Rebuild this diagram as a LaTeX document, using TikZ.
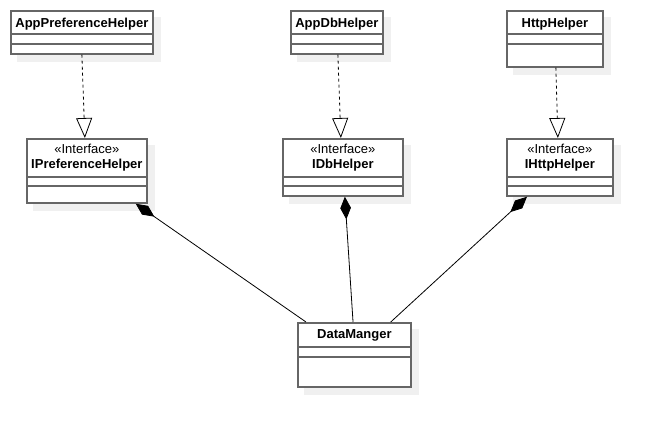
\documentclass[tikz,border=0pt]{standalone}
\usepackage{fontspec}
\setmainfont{Liberation Sans}
\usetikzlibrary{arrows.meta}
\usetikzlibrary{backgrounds}
\tikzset{>=latex}
\tikzset{
  cls/.style={draw=black!60, line width=1.3pt, fill=white, inner sep=0pt, anchor=north west},
  cline/.style={draw=black!60, line width=1.3pt},
  cname/.style={font=\bfseries\fontsize{9.75pt}{11pt}\selectfont, anchor=base, inner sep=0pt},
  stereo/.style={font=\fontsize{9.75pt}{11pt}\selectfont, anchor=base, inner sep=0pt},
  boxshadow/.style={fill=black!6},
  realize/.style={dash pattern=on 2.25pt off 2.25pt, line width=0.6pt,
                  -{Triangle[open, length=15pt, width=12pt, fill=white]}},
  compose/.style={line width=0.6pt, {Diamond[length=17pt, width=8pt]}-}
}

\begin{document}
\begin{tikzpicture}[x=0.75pt, y=-0.75pt]
  \useasboundingbox (0,0) rectangle (652,426);

  % classes
  \node[cls, minimum width=106.5pt, minimum height=32.25pt] (appPref) at (10,10) {};
  \node[cls, minimum width=69pt,    minimum height=32.25pt] (appDb)   at (290,10) {};
  \node[cls, minimum width=72pt,    minimum height=42pt]    (http)    at (506,10) {};
  \node[cls, minimum width=90pt,    minimum height=48pt]    (iPref)   at (26,138) {};
  \node[cls, minimum width=90pt,    minimum height=42.75pt] (iDb)     at (282,138) {};
  \node[cls, minimum width=79.5pt,  minimum height=42.75pt] (iHttp)   at (506,138) {};
  \node[cls, minimum width=84.75pt, minimum height=48pt]    (dataMgr) at (297,322) {};

  % shadows
  \begin{scope}[on background layer]
    \foreach \n in {appPref, appDb, http, iPref, iDb, iHttp, dataMgr}
      \fill[boxshadow] ([shift={(5.25pt,-5.25pt)}]\n.north west) rectangle ([shift={(5.25pt,-5.25pt)}]\n.south east);
  \end{scope}

  % compartments
  \foreach \n/\a/\b in {appPref/18/25.5, appDb/18/25.5, http/18/25.5,
                        iPref/29.25/36, iDb/29.25/36, iHttp/29.25/36, dataMgr/18.75/26.25}
    \draw[cline] ([yshift=-\a pt]\n.north west) -- ([yshift=-\a pt]\n.north east)
                 ([yshift=-\b pt]\n.north west) -- ([yshift=-\b pt]\n.north east);

  % names
  \node[cname] (appPrefName) at ([yshift=-12.75pt]appPref.north) {AppPreferenceHelper};
  \node[cname] (appDbName)   at ([yshift=-12.75pt]appDb.north)   {AppDbHelper};
  \node[cname] (httpName)    at ([yshift=-12.75pt]http.north)    {HttpHelper};
  \node[stereo] (iPrefSt)    at ([yshift=-11.25pt]iPref.north)   {«Interface»};
  \node[cname] (iPrefName)   at ([yshift=-22.5pt]iPref.north)    {IPreferenceHelper};
  \node[stereo] (iDbSt)      at ([yshift=-11.25pt]iDb.north)     {«Interface»};
  \node[cname] (iDbName)     at ([yshift=-22.5pt]iDb.north)      {IDbHelper};
  \node[stereo] (iHttpSt)    at ([yshift=-11.25pt]iHttp.north)   {«Interface»};
  \node[cname] (iHttpName)   at ([yshift=-22.5pt]iHttp.north)    {IHttpHelper};
  \node[cname] (dataMgrName) at ([yshift=-12pt]dataMgr.north)    {DataManger};

  % realization
  \draw[realize] (appPref.south) -- ([xshift=-1.5pt]iPref.north);
  \draw[realize] ([xshift=0.75pt]appDb.south) -- ([xshift=-1.5pt]iDb.north);
  \draw[realize] ([xshift=0.75pt]http.south) -- ([xshift=-1.5pt]iHttp.north);

  % composition
  \draw[compose] ([xshift=-9pt]iPref.south east) -- ([xshift=6.75pt]dataMgr.north west);
  \draw[compose] ([xshift=1.5pt]iDb.south) -- ([xshift=-1pt]dataMgr.north);
  \draw[compose] ([xshift=15.75pt]iHttp.south west) -- ([xshift=-15.75pt]dataMgr.north east);
\end{tikzpicture}
\end{document}
